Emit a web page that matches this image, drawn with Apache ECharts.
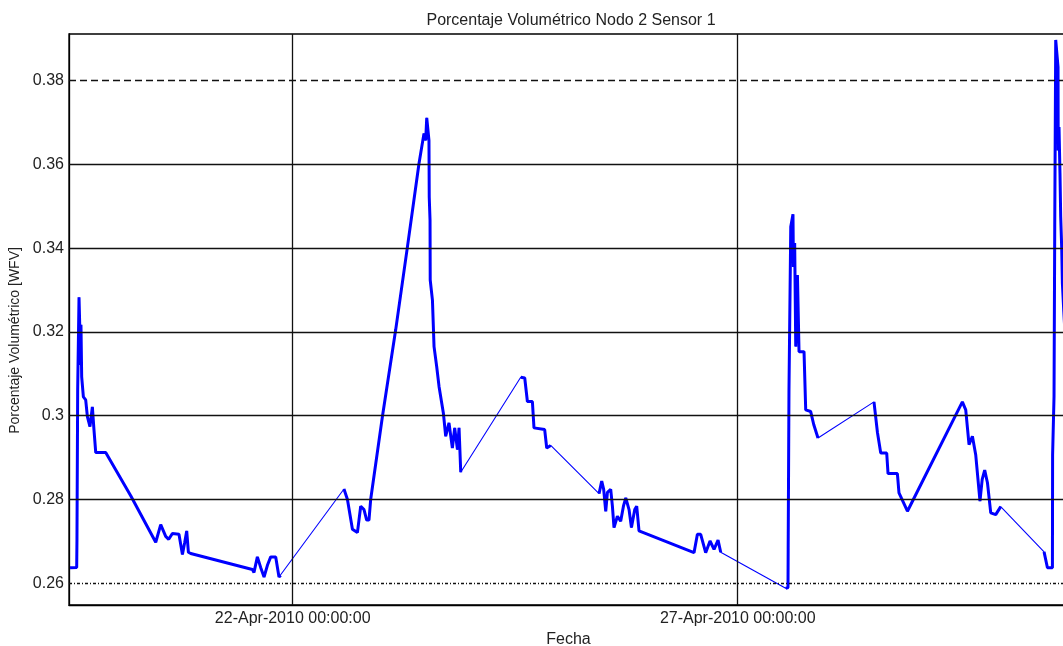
<!DOCTYPE html>
<html>
<head>
<meta charset="utf-8">
<script src="https://cdn.jsdelivr.net/npm/echarts@6/dist/echarts.min.js"></script>
<style>html,body{margin:0;padding:0;background:#fff}#c{width:1063px;height:646px}</style>
</head>
<body>
<div id="c"></div>
<script>
// x = days since 19-Apr-2010 00:00:00
const times = [
 0.498,0.573,0.576,0.584,0.599,0.607,0.612,0.621,0.629,0.648,0.674,0.693,0.722,0.749,0.767,0.787,0.899,1.180,1.461,1.517,1.573,1.607,1.648,1.722,1.761,1.787,1.809,1.828,1.854,2.547,2.565,2.603,2.640,2.678,2.719,2.753,2.809,2.846,2.865,
 3.576,3.615,3.671,3.727,3.764,3.801,3.831,3.857,3.876,4.008,4.157,4.289,4.419,4.475,4.494,4.506,4.522,4.531,4.534,4.543,4.545,4.570,4.588,4.618,4.644,4.693,4.719,4.756,4.794,4.820,4.851,4.869,4.888,
 5.562,5.607,5.637,5.693,5.711,5.831,5.854,5.899,
 6.442,6.472,6.494,6.517,6.536,6.573,6.592,6.610,6.648,6.685,6.716,6.742,6.779,6.806,6.843,6.865,6.891,7.509,7.547,7.584,7.640,7.689,7.734,7.779,7.809,
 8.539,8.565,8.567,8.576,8.596,8.621,8.626,8.640,8.652,8.671,8.689,8.745,8.764,8.820,8.854,8.902,
 9.531,9.570,9.607,9.674,9.689,9.794,9.812,9.907,10.524,10.562,10.599,10.637,10.674,10.722,10.747,10.775,10.806,10.843,10.899,10.955,
 11.442,11.480,11.536,11.538,11.554,11.562,11.573,11.599,11.601,11.610,11.621,11.629,11.640,11.648,11.663,11.690
];
const values = [
 0.2637,0.2638,0.2705,0.3062,0.3283,0.3217,0.3121,0.3217,0.3093,0.3045,0.3038,0.2998,0.2974,0.3021,0.2967,0.2912,0.2912,0.2809,0.2698,0.2740,0.2712,0.2705,0.2719,0.2717,0.2669,0.2698,0.2725,0.2674,0.2671,0.2633,0.2626,0.2663,0.2638,0.2615,0.2645,0.2663,0.2663,0.2615,0.2619,
 0.2825,0.2800,0.2729,0.2721,0.2784,0.2776,0.2751,0.2751,0.2800,0.2998,0.3205,0.3403,0.3602,0.3674,0.3657,0.3711,0.3711,0.3657,0.3522,0.3467,0.3324,0.3276,0.3165,0.3117,0.3070,0.3006,0.2951,0.2983,0.2923,0.2971,0.2919,0.2971,0.2865,
 0.3092,0.3090,0.3034,0.3034,0.2971,0.2967,0.2923,0.2929,
 0.2814,0.2844,0.2824,0.2772,0.2817,0.2824,0.2784,0.2733,0.2760,0.2748,0.2784,0.2804,0.2776,0.2733,0.2776,0.2784,0.2725,0.2673,0.2717,0.2717,0.2673,0.2701,0.2681,0.2703,0.2674,
 0.2588,0.2590,0.2681,0.3062,0.3451,0.3481,0.3355,0.3412,0.3165,0.3336,0.3153,0.3153,0.3014,0.3010,0.2979,0.2947,
 0.3033,0.2960,0.2911,0.2911,0.2862,0.2862,0.2816,0.2772,0.3033,0.3014,0.2931,0.2951,0.2907,0.2796,0.2848,0.2870,0.2840,0.2768,0.2764,0.2783,
 0.2675,0.2637,0.2637,0.2907,0.3046,0.3451,0.3897,0.3832,0.3633,0.3689,0.3578,0.3475,0.3403,0.3316,0.3252,0.3150
];
// indices after which the record has a gap (drawn as a thin straight link)
const gapAfter = [38, 71, 79, 104, 120, 140];
const yTicks = [0.26, 0.28, 0.30, 0.32, 0.34, 0.36, 0.38];
const xTickValues = [3, 8];
const xTickLabels = ['22-Apr-2010 00:00:00', '27-Apr-2010 00:00:00'];
const titleText = 'Porcentaje Volumétrico Nodo 2 Sensor 1';
const yName = 'Porcentaje Volumétrico [WFV]';
const xName = 'Fecha';

const allPts = times.map((t, i) => [t, values[i]]);
const thickPts = [];
times.forEach((t, i) => {
  thickPts.push([t, values[i]]);
  if (gapAfter.includes(i)) thickPts.push([t, null]);
});

const FONT = '"Liberation Sans", Arial, Helvetica, sans-serif';
const TXT = '#222';
const gridLines = yTicks.map(v => ({
  yAxis: v,
  lineStyle: {
    color: '#111', width: 1.3,
    type: v === 0.38 ? [7, 4] : (v === 0.26 ? [3, 2, 1, 2] : 'solid')
  }
})).concat(xTickValues.map(v => ({ xAxis: v, lineStyle: { color: '#111', width: 1.3, type: 'solid' } })));

const chart = echarts.init(document.getElementById('c'), null, { renderer: 'canvas' });
chart.setOption({
  animation: false,
  backgroundColor: '#fff',
  title: {
    text: titleText, left: 566, top: 8, textAlign: 'center',
    textStyle: { fontFamily: FONT, fontSize: 16, fontWeight: 'normal', color: TXT }
  },
  grid: { left: 69, top: 34, width: 999, height: 571, show: true, borderColor: '#000', borderWidth: 1.3, containLabel: false, outerBoundsMode: 'none' },
  xAxis: {
    type: 'value', min: 0.4865, max: 11.711,
    name: xName, nameLocation: 'middle', nameGap: 21,
    nameTextStyle: { fontFamily: FONT, fontSize: 16, color: TXT },
    axisLine: { show: true, onZero: false, lineStyle: { color: '#000', width: 1.3 } },
    axisTick: { show: true, inside: true, length: 6, customValues: xTickValues, lineStyle: { color: '#000' } },
    axisLabel: {
      customValues: xTickValues, margin: 6,
      fontFamily: FONT, fontSize: 16, color: TXT,
      formatter: v => { const k = xTickValues.findIndex(x => Math.abs(x - v) < 1e-6); return k >= 0 ? xTickLabels[k] : ''; }
    },
    splitLine: { show: false }
  },
  yAxis: {
    type: 'value', min: 0.25482, max: 0.39112,
    name: yName, nameLocation: 'middle', nameGap: 44, nameRotate: 90,
    nameTextStyle: { fontFamily: FONT, fontSize: 14, color: TXT, padding: [0, 42, 0, 0] },
    axisLine: { show: true, onZero: false, lineStyle: { color: '#000', width: 1.3 } },
    axisTick: { show: false, customValues: yTicks },
    axisLabel: {
      customValues: yTicks, margin: 5,
      fontFamily: FONT, fontSize: 16, color: TXT,
      formatter: v => String(+v.toFixed(2))
    },
    splitLine: { show: false }
  },
  series: [
    {
      type: 'line', data: allPts, showSymbol: false, z: 2,
      lineStyle: { color: '#0000ff', width: 1.1 },
      markLine: { silent: true, symbol: ['none', 'none'], label: { show: false }, animation: false, data: gridLines }
    },
    {
      type: 'line', data: thickPts, showSymbol: false, connectNulls: false, z: 3,
      lineStyle: { color: '#0000ff', width: 3 }
    }
  ]
});
</script>
</body>
</html>
